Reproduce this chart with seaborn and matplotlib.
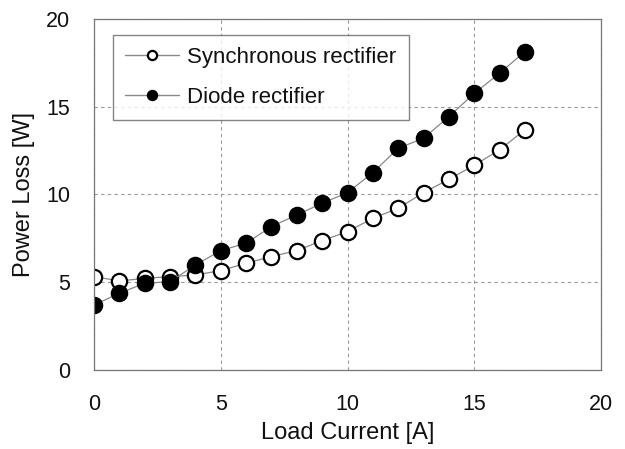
import matplotlib
matplotlib.use("Agg")
import matplotlib.pyplot as plt
import seaborn as sns
import pandas as pd

current = list(range(18))
sync_loss = [5.32, 5.07, 5.22, 5.32, 5.41, 5.66, 6.08, 6.46, 6.80, 7.37, 7.88,
             8.64, 9.21, 10.10, 10.86, 11.66, 12.54, 13.68]
diode_loss = [3.70, 4.37, 4.94, 5.03, 5.98, 6.80, 7.22, 8.17, 8.83, 9.50, 10.10,
              11.24, 12.63, 13.20, 14.43, 15.76, 16.90, 18.14]
series_names = ["Synchronous rectifier", "Diode rectifier"]
x_ticks = [0, 5, 10, 15, 20]
y_ticks = [0, 5, 10, 15, 20]

sns.set_style("white")
plt.rcParams['font.family'] = ['Liberation Sans', 'DejaVu Sans']
plt.rcParams['text.color'] = '#111111'
plt.rcParams['axes.labelcolor'] = '#111111'
plt.rcParams['xtick.color'] = '#111111'
plt.rcParams['ytick.color'] = '#111111'

fig = plt.figure(figsize=(6.25, 4.49), dpi=100)
ax = fig.add_axes([0.1504, 0.176, 0.8112, 0.782])

df_s = pd.DataFrame({"x": current, "y": sync_loss})
df_d = pd.DataFrame({"x": current, "y": diode_loss})
sns.lineplot(data=df_s, x="x", y="y", ax=ax, color="#888888", lw=0.9,
             marker="o", markersize=11, markerfacecolor="white",
             markeredgecolor="black", markeredgewidth=1.6, label=series_names[0])
sns.lineplot(data=df_d, x="x", y="y", ax=ax, color="#888888", lw=0.9,
             marker="o", markersize=11, markerfacecolor="black",
             markeredgecolor="black", markeredgewidth=1.6, label=series_names[1])

ax.set_xlim(0, 20)
ax.set_ylim(0, 20)
ax.set_xticks(x_ticks)
ax.set_yticks(y_ticks)
ax.tick_params(axis="both", length=0, labelsize=15.5)
ax.tick_params(axis="x", pad=17)
ax.tick_params(axis="y", pad=17)
ax.grid(True, linestyle=(0, (3, 3)), color="#999999", lw=0.8)
for s in ax.spines.values():
    s.set_color("#777777")
    s.set_linewidth(0.9)
ax.set_xlabel("Load Current [A]", fontsize=17, labelpad=5)
ax.set_ylabel("Power Loss [W]", fontsize=17, labelpad=8)

leg = ax.legend(loc="upper left", bbox_to_anchor=(0.0375, 0.954), borderaxespad=0,
                fontsize=16, markerscale=0.6, frameon=True, fancybox=False,
                edgecolor="#666666", handlelength=2.4, borderpad=0.55,
                labelspacing=0.85, handletextpad=0.4)
leg.get_frame().set_linewidth(1.0)
for line in leg.get_lines():
    line.set_linewidth(1.0)

fig.savefig("out.png", dpi=100)
